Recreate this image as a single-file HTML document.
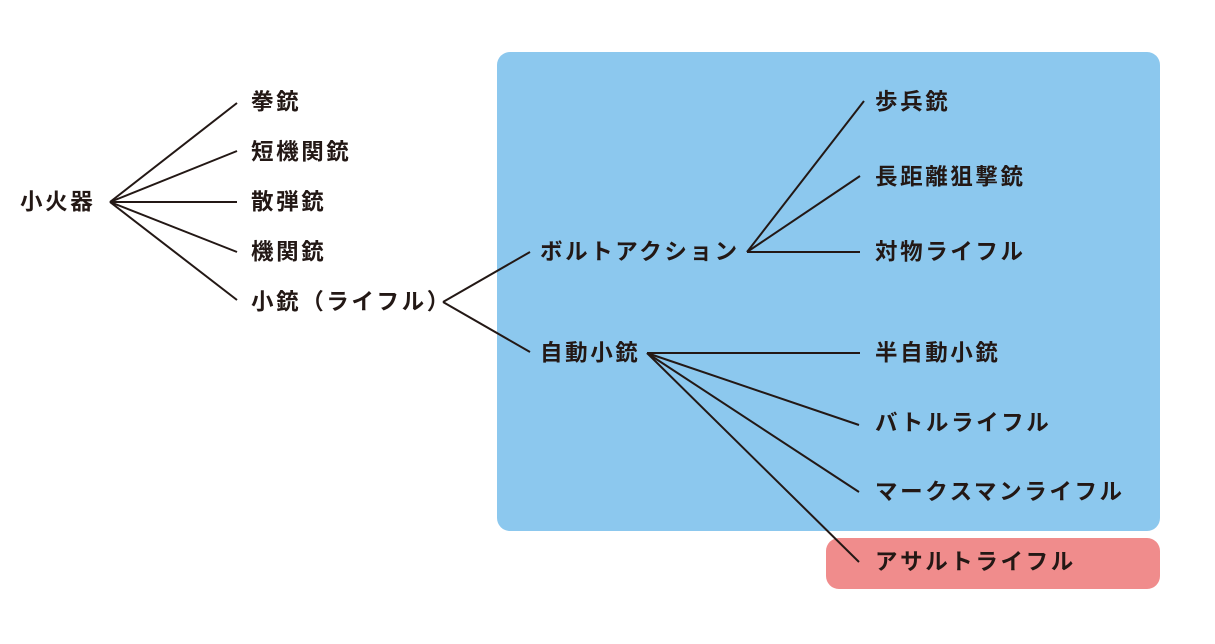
<!DOCTYPE html>
<html><head><meta charset="utf-8"><style>
html,body{margin:0;padding:0;background:#fff;}
svg{display:block}
text{font-family:"Liberation Sans","Noto Sans CJK JP",sans-serif;font-weight:bold;font-size:22.5px;fill:#231815;letter-spacing:2.6px;dominant-baseline:central}
line{stroke:#231815;stroke-width:2}
</style></head><body>
<svg width="1215" height="644" viewBox="0 0 1215 644">
<rect x="497" y="52" width="663" height="479" rx="13" fill="#8CC8EE"/>
<rect x="826" y="538" width="334" height="51" rx="13" fill="#F08C8C"/>
<line x1="110" y1="202" x2="237" y2="103"/>
<line x1="110" y1="202" x2="237" y2="151"/>
<line x1="110" y1="202" x2="237" y2="202"/>
<line x1="110" y1="202" x2="237" y2="252"/>
<line x1="110" y1="202" x2="237" y2="300"/>
<line x1="443" y1="302" x2="530" y2="252"/>
<line x1="443" y1="302" x2="530" y2="352"/>
<line x1="747" y1="252" x2="864" y2="101"/>
<line x1="747" y1="252" x2="860" y2="176"/>
<line x1="747" y1="252" x2="860" y2="252"/>
<line x1="647" y1="353" x2="860" y2="353"/>
<line x1="647" y1="353" x2="859" y2="425"/>
<line x1="647" y1="353" x2="859" y2="492"/>
<line x1="647" y1="353" x2="859" y2="562"/>
<text x="20" y="202">小火器</text>
<text x="251" y="102">拳銃</text>
<text x="251" y="152">短機関銃</text>
<text x="251" y="202">散弾銃</text>
<text x="251" y="252">機関銃</text>
<text x="251" y="302">小銃（ライフル）</text>
<text x="540" y="252">ボルトアクション</text>
<text x="540" y="353">自動小銃</text>
<text x="875" y="102">歩兵銃</text>
<text x="875" y="177">長距離狙撃銃</text>
<text x="875" y="252">対物ライフル</text>
<text x="875" y="353">半自動小銃</text>
<text x="875" y="423">バトルライフル</text>
<text x="875" y="492">マークスマンライフル</text>
<text x="875" y="562">アサルトライフル</text>
</svg>
</body></html>
